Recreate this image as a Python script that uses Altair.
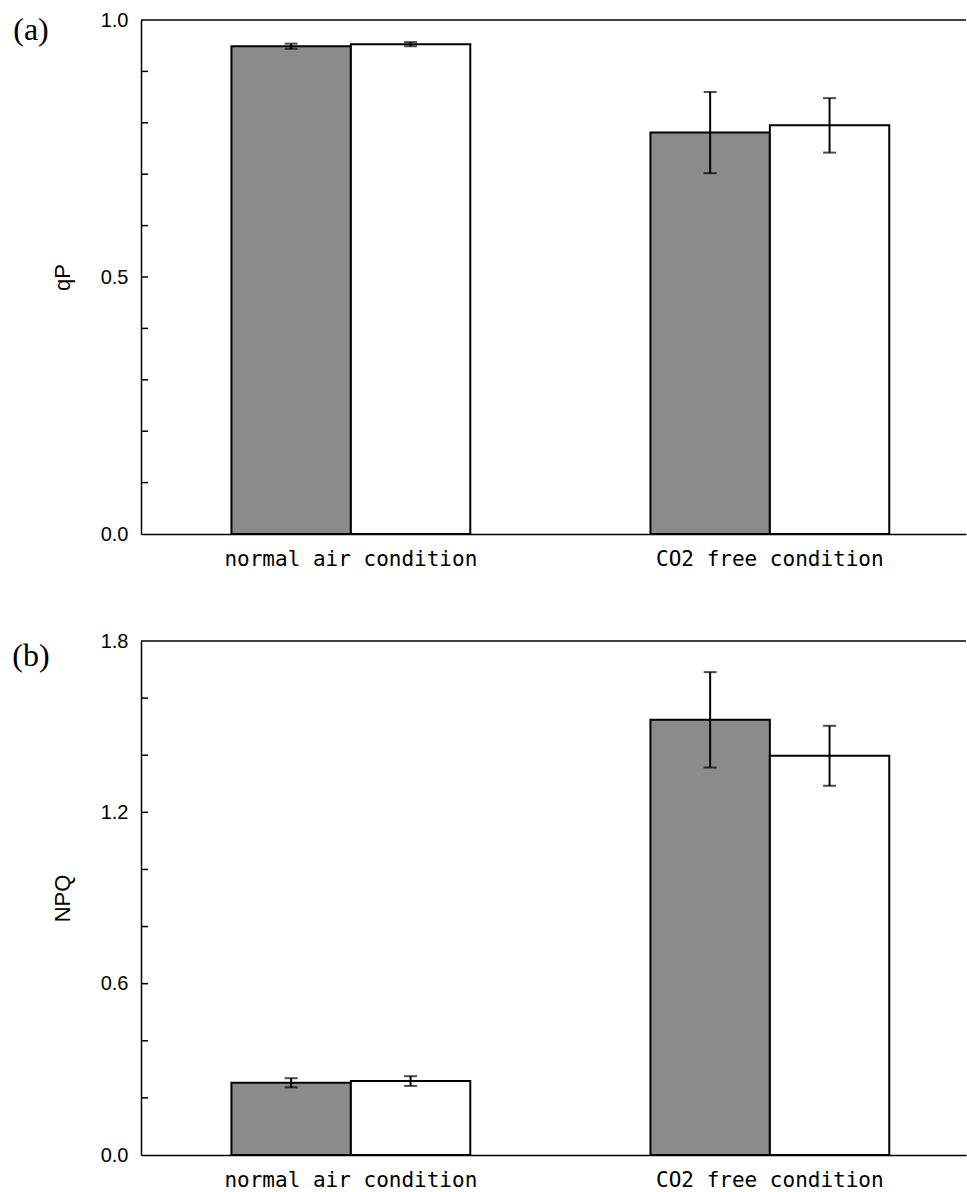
import altair as alt
import pandas as pd

categories = ["normal air condition", "CO2 free condition"]
series = ["grey", "white"]
series_colors = ["#8b8b8b", "#ffffff"]

qp_means = [0.949, 0.953, 0.781, 0.795]
qp_errs = [0.005, 0.004, 0.079, 0.053]
npq_means = [0.253, 0.259, 1.524, 1.398]
npq_errs = [0.016, 0.017, 0.167, 0.105]

qp_labels = [0.0, 0.5, 1.0]
qp_ticks = [0.1, 0.2, 0.3, 0.4, 0.5, 0.6, 0.7, 0.8, 0.9]
npq_labels = [0.0, 0.6, 1.2, 1.8]
npq_ticks = [0.2, 0.4, 0.6, 0.8, 1.0, 1.2, 1.4, 1.6]

W = 825
H = 514
SANS = "Liberation Sans"
MONO = "DejaVu Sans Mono"


def panel(means, errs, ymax, label_vals, tick_vals, ytitle, tag, tag_dy):
    df = pd.DataFrame({
        "cond": [c for c in categories for _ in series],
        "series": series * len(categories),
        "mean": means,
        "err": errs,
    })
    df["lo"] = df["mean"] - df["err"]
    df["hi"] = df["mean"] + df["err"]

    yscale = alt.Scale(domain=[0, ymax], nice=False, zero=True)
    yaxis = alt.Axis(values=label_vals, format=".1f", ticks=False, grid=False,
                     domainColor="black", domainWidth=1.5,
                     labelFont=SANS, labelFontSize=20, labelColor="black",
                     labelPadding=13, title=ytitle, titleFont=SANS,
                     titleFontSize=22, titleFontWeight="normal",
                     titleColor="black", titlePadding=26)
    x = alt.X(
        "cond:N", sort=categories,
        scale=alt.Scale(paddingInner=0.43, paddingOuter=0.1995, align=0.541),
        axis=alt.Axis(title=None, labelAngle=0, labelFont=MONO, labelFontSize=21,
                      labelColor="black", ticks=False, domainColor="black",
                      domainWidth=1.5, labelPadding=14, labelLimit=500),
    )
    xo = alt.XOffset("series:N", sort=series,
                     scale=alt.Scale(paddingInner=0, paddingOuter=0))

    bars = alt.Chart(df).mark_bar(stroke="black", strokeWidth=2).encode(
        x=x, xOffset=xo,
        y=alt.Y("mean:Q", scale=yscale, axis=yaxis),
        fill=alt.Fill("series:N", scale=alt.Scale(domain=series, range=series_colors),
                      legend=None),
    )
    err_line = alt.Chart(df).mark_rule(color="black", strokeWidth=2).encode(
        x=x, xOffset=xo,
        y=alt.Y("lo:Q", scale=yscale, axis=yaxis), y2="hi:Q",
    )
    cap_hi = alt.Chart(df).mark_tick(color="black", thickness=2, size=13).encode(
        x=x, xOffset=xo, y=alt.Y("hi:Q", scale=yscale, axis=yaxis),
    )
    cap_lo = alt.Chart(df).mark_tick(color="black", thickness=2, size=13).encode(
        x=x, xOffset=xo, y=alt.Y("lo:Q", scale=yscale, axis=yaxis),
    )
    ticks = alt.Chart(pd.DataFrame({"v": tick_vals})).mark_rule(
        color="black", strokeWidth=1.5).encode(
        y=alt.Y("v:Q", scale=yscale, axis=yaxis), x=alt.value(0), x2=alt.value(7),
    )
    top = alt.Chart(pd.DataFrame({"v": [ymax]})).mark_rule(
        color="black", strokeWidth=1.5).encode(
        y=alt.Y("v:Q", scale=yscale, axis=yaxis), x=alt.value(0), x2=alt.value(W),
    )
    label = alt.Chart(pd.DataFrame({"t": [tag]})).mark_text(
        font="Liberation Serif", fontSize=32, align="center", baseline="middle",
        color="black").encode(
        text="t:N", x=alt.value(-110), y=alt.value(tag_dy),
    )
    return alt.layer(bars, err_line, cap_hi, cap_lo, ticks, top, label).properties(
        width=W, height=H)


pa = panel(qp_means, qp_errs, 1.0, qp_labels, qp_ticks, "qP", "(a)", 10)
pb = panel(npq_means, npq_errs, 1.8, npq_labels, npq_ticks, "NPQ", "(b)", 15)

chart = alt.vconcat(pa, pb, spacing=107, bounds="flush").properties(
    padding={"left": 12, "top": 10, "right": 0, "bottom": 0},
    background="white",
).configure_view(stroke=None)

chart.save("out.html", embed_options={"renderer": "svg", "actions": False})
